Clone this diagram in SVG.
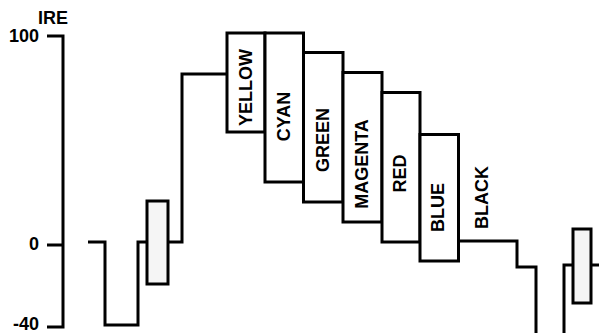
<svg xmlns="http://www.w3.org/2000/svg" width="599" height="333" viewBox="0 0 599 333">
<style>
.ln{fill:none;stroke:#000;stroke-width:3;stroke-linejoin:miter;stroke-linecap:butt}
.bar{fill:#fff;stroke:#000;stroke-width:3}
.burst{fill:#f5f5f5;stroke:#000;stroke-width:3}
.t{font-family:"Liberation Sans",Arial,sans-serif;font-weight:bold;font-size:18px;fill:#000}
.v{text-anchor:middle}
</style>
<rect width="599" height="333" fill="#fff"/>
<g id="axis">
<path class="ln" d="M47,36 H63 V327 H47 M47,245 H63"/>
<text class="t" x="38" y="24">IRE</text>
<text class="t" x="39" y="42" text-anchor="end">100</text>
<text class="t" x="39" y="250" text-anchor="end">0</text>
<text class="t" x="39" y="330" text-anchor="end">-40</text>
</g>
<g id="connectors">
<path class="ln" d="M88,242 H105 V325 H138 V242 H147"/>
<path class="ln" d="M168,242 H182 V74 H227"/>
<path class="ln" d="M458,241 H517 V267 H536 V335"/>
<path class="ln" d="M564,335 V265 H573"/>
<path class="ln" d="M591,265 H601"/>
</g>
<g id="burst1"><rect class="burst" x="147" y="201" width="21" height="83"/></g>
<g id="yellow"><rect class="bar" x="227" y="33" width="38" height="99"/><text class="t v" transform="translate(251.5,87.5) rotate(-90)">YELLOW</text></g>
<g id="cyan"><rect class="bar" x="265" y="33" width="38.5" height="149"/><text class="t v" transform="translate(289.5,116.5) rotate(-90)">CYAN</text></g>
<g id="green"><rect class="bar" x="303.5" y="52.5" width="39.5" height="149.5"/><text class="t v" transform="translate(328.5,140) rotate(-90)">GREEN</text></g>
<g id="magenta"><rect class="bar" x="343" y="72.5" width="39" height="149.5"/><text class="t v" transform="translate(368,164) rotate(-90)">MAGENTA</text></g>
<g id="red"><rect class="bar" x="382" y="92.5" width="38" height="149.5"/><text class="t v" transform="translate(405.5,173.5) rotate(-90)">RED</text></g>
<g id="blue"><rect class="bar" x="420" y="134.5" width="38.5" height="126.5"/><text class="t v" transform="translate(443.5,207.5) rotate(-90)">BLUE</text></g>
<g id="black"><text class="t v" transform="translate(488,197.5) rotate(-90)">BLACK</text></g>
<g id="burst2"><rect class="burst" x="573" y="229" width="18" height="74"/></g>
</svg>
